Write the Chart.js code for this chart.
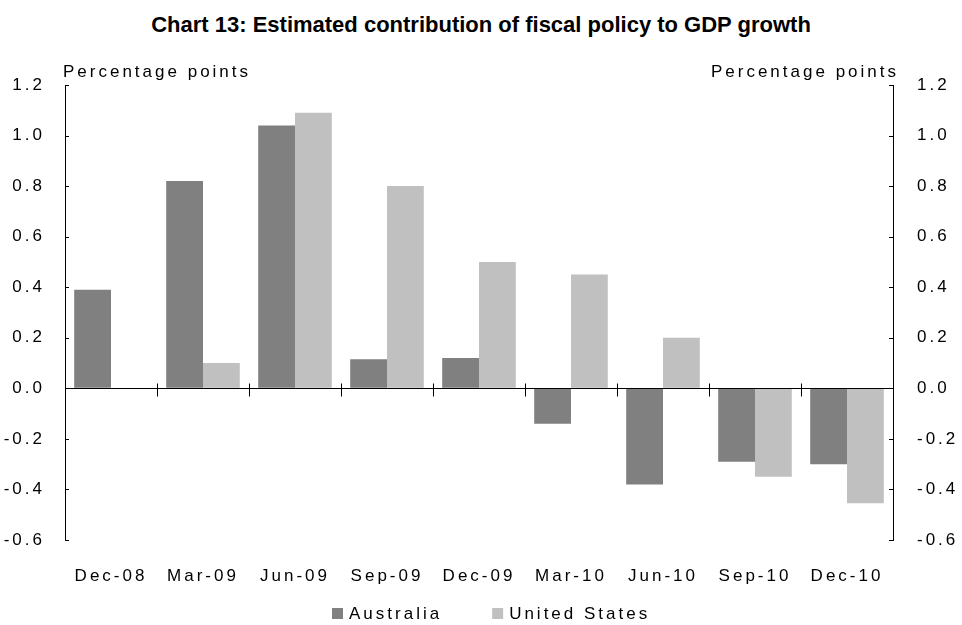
<!DOCTYPE html>
<html>
<head>
<meta charset="utf-8">
<script src="https://cdn.jsdelivr.net/npm/chart.js@4"></script>
<style>
  body { margin: 0; background: #fff; }
  #title { font: bold 22px Arial, "Liberation Sans", sans-serif; height: 56px; line-height: 49px; padding-bottom: 7px; box-sizing: border-box; text-align: center; color: #000; }
  #wrap { width: 962px; height: 569px; position: relative; }
</style>
</head>
<body>
<div id="title">Chart 13: Estimated contribution of fiscal policy to GDP growth</div>
<div id="wrap"><canvas id="fiscalChart"></canvas></div>
<script>
const quarters = ['Dec-08', 'Mar-09', 'Jun-09', 'Sep-09', 'Dec-09', 'Mar-10', 'Jun-10', 'Sep-10', 'Dec-10'];
const australia = [0.39, 0.82, 1.04, 0.115, 0.12, -0.14, -0.38, -0.29, -0.30];
const unitedStates = [0, 0.10, 1.09, 0.80, 0.50, 0.45, 0.20, -0.35, -0.455];
const yTicks = [-0.6, -0.4, -0.2, 0.0, 0.2, 0.4, 0.6, 0.8, 1.0, 1.2];

const font = { family: 'Arial, "Liberation Sans", sans-serif', size: 17 };
const fontCss = '17px Arial, "Liberation Sans", sans-serif';
const letterGap = '3px';

// canvas text is spaced wider in the original
const spacing = {
  id: 'spacing',
  beforeLayout(chart) { chart.ctx.letterSpacing = letterGap; },
  beforeDraw(chart) { chart.ctx.letterSpacing = letterGap; }
};

// inward axis ticks, zero line with category ticks, unit labels, legend
const decorations = {
  id: 'decorations',
  afterDatasetsDraw(chart) {
    const { ctx, chartArea: a, scales } = chart;
    const y = scales.y;
    const x = scales.x;
    const step = x.getPixelForValue(1) - x.getPixelForValue(0);
    ctx.save();
    ctx.strokeStyle = '#000';
    ctx.lineWidth = 1;
    ctx.beginPath();
    yTicks.forEach(v => {
      const py = Math.round(y.getPixelForValue(v)) + 0.5;
      ctx.moveTo(a.left, py); ctx.lineTo(a.left + 4, py);
      ctx.moveTo(a.right, py); ctx.lineTo(a.right - 4, py);
    });
    const zy = Math.round(y.getPixelForValue(0)) + 0.5;
    ctx.moveTo(a.left, zy); ctx.lineTo(a.right, zy);
    for (let i = 0; i <= quarters.length; i++) {
      const px = Math.round(i === quarters.length ? a.right : x.getPixelForValue(i) - step / 2) + 0.5;
      ctx.moveTo(px, zy - 5); ctx.lineTo(px, zy + 8);
    }
    ctx.stroke();

    ctx.fillStyle = '#000';
    ctx.font = fontCss;
    ctx.letterSpacing = letterGap;
    ctx.textBaseline = 'middle';
    ctx.textAlign = 'left';
    ctx.fillText('Percentage points', a.left - 2, 16);
    ctx.textAlign = 'right';
    ctx.fillText('Percentage points', a.right + 6, 16);

    // legend
    ctx.textAlign = 'left';
    const ly = a.bottom + 74;
    let lx = 332;
    chart.data.datasets.forEach(ds => {
      ctx.fillStyle = ds.backgroundColor;
      ctx.fillRect(lx, ly - 6, 11, 11);
      ctx.fillStyle = '#000';
      ctx.fillText(ds.label, lx + 17, ly);
      lx += 17 + ctx.measureText(ds.label).width + 50;
    });
    ctx.restore();
  }
};

new Chart(document.getElementById('fiscalChart'), {
  type: 'bar',
  data: {
    labels: quarters,
    datasets: [
      { label: 'Australia', data: australia, backgroundColor: '#808080' },
      { label: 'United States', data: unitedStates, backgroundColor: '#c0c0c0' }
    ]
  },
  options: {
    responsive: true,
    maintainAspectRatio: false,
    animation: false,
    categoryPercentage: 0.8,
    barPercentage: 1.0,
    layout: { padding: { top: 29 } },
    plugins: {
      legend: { display: false },
      tooltip: { enabled: false }
    },
    scales: {
      x: {
        grid: { display: false },
        border: { display: false },
        ticks: { color: '#000', font: font, padding: 18, maxRotation: 0 },
        afterFit(s) { s.height = 85; s.paddingLeft = 0; s.paddingRight = 0; }
      },
      y: {
        position: 'left',
        min: -0.6, max: 1.2,
        afterBuildTicks(s) { s.ticks = yTicks.map(v => ({ value: v })); },
        grid: { drawOnChartArea: false, drawTicks: false },
        border: { display: true, color: '#000' },
        ticks: { color: '#000', font: font, padding: 20, callback: v => v.toFixed(1) },
        afterFit(s) { s.width = 65; s.paddingTop = 0; s.paddingBottom = 0; }
      },
      y2: {
        position: 'right',
        min: -0.6, max: 1.2,
        afterBuildTicks(s) { s.ticks = yTicks.map(v => ({ value: v })); },
        grid: { drawOnChartArea: false, drawTicks: false },
        border: { display: true, color: '#000' },
        ticks: { color: '#000', font: font, padding: 24, callback: v => v.toFixed(1) },
        afterFit(s) { s.width = 69; s.paddingTop = 0; s.paddingBottom = 0; }
      }
    }
  },
  plugins: [spacing, decorations]
});
</script>
</body>
</html>
